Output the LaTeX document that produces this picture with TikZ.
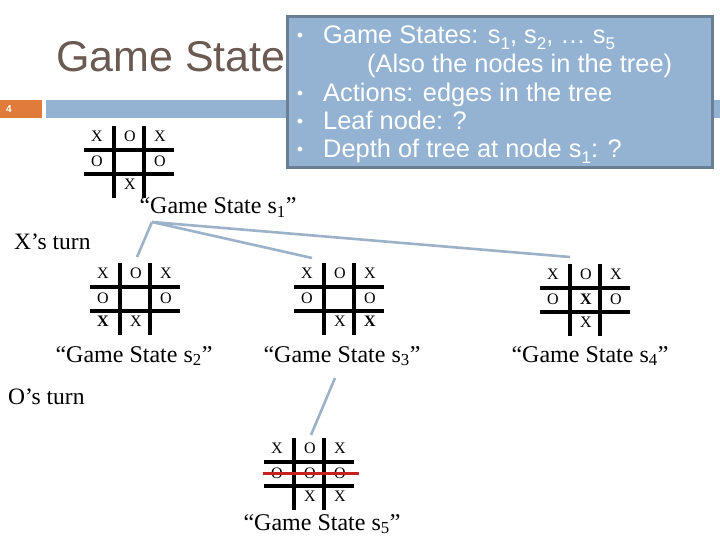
\documentclass[tikz,border=0pt]{standalone}
\usepackage{fontspec}
\setmainfont{Liberation Serif}
\newfontfamily\sansf{Liberation Sans}
\definecolor{titlec}{HTML}{6B5A52}
\definecolor{barblue}{HTML}{94B3D3}
\definecolor{barorange}{HTML}{E07B39}
\definecolor{boxborder}{HTML}{6A7F96}
\definecolor{edgec}{HTML}{9CB2C9}
\definecolor{redline}{HTML}{C8201E}
\newcommand\boxsub[1]{\raisebox{-0.22em}{\fontsize{17}{17}\selectfont #1}}
\tikzset{
  gridline/.style={line width=3.4pt, black},
  boardarea/.style={minimum width=90pt, minimum height=72pt, inner sep=0pt, outer sep=0pt},
  cellt/.style={inner sep=0pt, font=\fontsize{16}{16}\selectfont},
  statelabel/.style={anchor=base, inner sep=0pt, font=\fontsize{24}{28}\selectfont},
  turnlabel/.style={anchor=base west, inner sep=0pt, font=\fontsize{23.5}{28}\selectfont},
  edge/.style={edgec, line width=2.6pt},
  boxtext/.style={anchor=base west, inner sep=0pt, text=white, font=\sansf\fontsize{25.4}{28}\selectfont},
  boxbullet/.style={anchor=base, inner sep=0pt, text=white, font=\sansf\fontsize{18}{18}\selectfont},
}
\newcommand\tttboard[3]{%
  \node[boardarea] (#1) at (#2+45,#3+36) {};
  \draw[gridline] ([xshift=30pt]#1.north west) -- ([xshift=30pt]#1.south west);
  \draw[gridline] ([xshift=60pt]#1.north west) -- ([xshift=60pt]#1.south west);
  \draw[gridline] ([yshift=-24pt]#1.north west) -- ([yshift=-24pt]#1.north east);
  \draw[gridline] ([yshift=-48pt]#1.north west) -- ([yshift=-48pt]#1.north east);
}
\newcommand\tttrow[7]{%
  \node[cellt] (#1-#2-1) at (#3+13,#4) {#5};
  \node[cellt] (#1-#2-2) at (#3+46,#4) {#6};
  \node[cellt] (#1-#2-3) at (#3+76,#4) {#7};
}
\begin{document}
\begin{tikzpicture}[x=1pt,y=-1pt]
\useasboundingbox (0,0) rectangle (720,540);
\fill[white] (0,0) rectangle (720,540);

% title and header bar
\node[anchor=base west, inner sep=0pt, text=titlec, font=\sansf\fontsize{43}{50}\selectfont] (title) at (56,72) {Game State};
\fill[barorange] (0,100) rectangle (42,118);
\fill[barblue] (46,100) rectangle (720,118);
\node[inner sep=0pt, text=white, font=\sansf\bfseries\fontsize{10}{10}\selectfont] (pagenum) at (9,109) {4};

% info box
\node[draw=boxborder, line width=3pt, fill=barblue, minimum width=425pt, minimum height=151pt, inner sep=0pt] (info) at (499.5,92.5) {};
\node[boxbullet] (b1) at (300,42) {•};
\node[boxtext] (t1) at (323,44) {Game States: s\boxsub{1}, s\boxsub{2}, … s\boxsub{5}};
\node[boxtext] (t2) at (367,73) {(Also the nodes in the tree)};
\node[boxbullet] (b3) at (300,100) {•};
\node[boxtext] (t3) at (323,102) {Actions: edges in the tree};
\node[boxbullet] (b4) at (300,128) {•};
\node[boxtext] (t4) at (323,130) {Leaf node: ?};
\node[boxbullet] (b5) at (300,156) {•};
\node[boxtext] (t5) at (323,158) {Depth of tree at node s\boxsub{1}: ?};

% state s1
\tttboard{s1}{84}{126}
\tttrow{s1}{1}{84}{136}{X}{O}{X}
\tttrow{s1}{2}{84}{161}{O}{}{O}
\tttrow{s1}{3}{84}{184}{}{X}{}
\node[statelabel] (l1) at (218,214) {“Game State s\textsubscript{1}”};

\node[turnlabel] (xturn) at (14,249) {X’s turn};

% state s2
\tttboard{s2}{90}{263}
\tttrow{s2}{1}{90}{273}{X}{O}{X}
\tttrow{s2}{2}{90}{298}{O}{}{O}
\tttrow{s2}{3}{90}{321}{\textbf{X}}{X}{}
\node[statelabel] (l2) at (134,362) {“Game State s\textsubscript{2}”};

% state s3
\tttboard{s3}{294}{263}
\tttrow{s3}{1}{294}{273}{X}{O}{X}
\tttrow{s3}{2}{294}{298}{O}{}{O}
\tttrow{s3}{3}{294}{321}{}{X}{\textbf{X}}
\node[statelabel] (l3) at (342,362) {“Game State s\textsubscript{3}”};

% state s4
\tttboard{s4}{540}{264}
\tttrow{s4}{1}{540}{274}{X}{O}{X}
\tttrow{s4}{2}{540}{299}{O}{\textbf{X}}{O}
\tttrow{s4}{3}{540}{322}{}{X}{}
\node[statelabel] (l4) at (590,362) {“Game State s\textsubscript{4}”};

\node[turnlabel] (oturn) at (8,404) {O’s turn};

% state s5
\tttboard{s5}{264}{438}
\tttrow{s5}{1}{264}{448}{X}{O}{X}
\tttrow{s5}{2}{264}{473}{O}{O}{O}
\tttrow{s5}{3}{264}{496}{}{X}{X}
\coordinate (r1) at (263,473);
\coordinate (r2) at (359,473);
\draw[redline, line width=3pt] (r1) -- (r2);
\node[statelabel] (l5) at (322,530) {“Game State s\textsubscript{5}”};

% connectors
\coordinate (s1b) at (152,222);
\coordinate (s2t) at (137,257);
\coordinate (s3t) at (312,258);
\coordinate (s4t) at (570,257);
\coordinate (s3b) at (335,378);
\coordinate (s5t) at (311,435);
\draw[edge] (s1b) -- (s2t);
\draw[edge] (s1b) -- (s3t);
\draw[edge] (s1b) -- (s4t);
\draw[edge] (s3b) -- (s5t);
\end{tikzpicture}
\end{document}
